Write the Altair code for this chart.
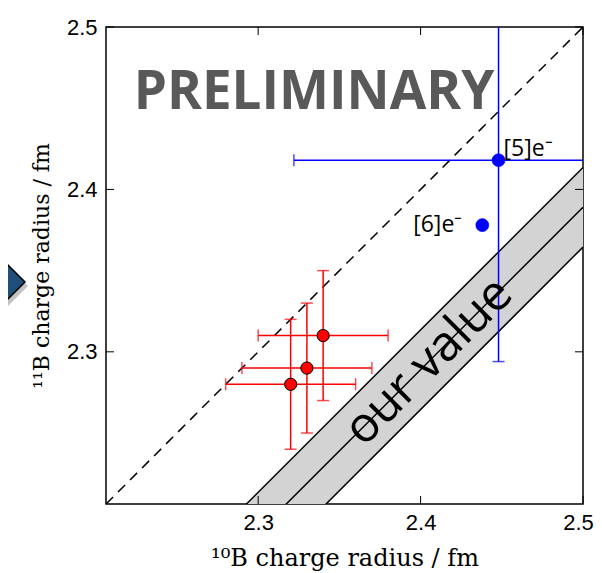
import altair as alt
import pandas as pd

# ---------------- data ----------------
axis_lo, axis_hi = 2.2063, 2.5
tick_values = [2.3, 2.4, 2.5]

red_x = [2.32, 2.33, 2.34]
red_y = [2.28, 2.29, 2.31]
red_xerr = [0.04, 0.04, 0.04]
red_yerr = [0.04, 0.04, 0.04]

blue_x = [2.448, 2.438]
blue_y = [2.418, 2.378]
blue_xerr = [0.126, 0.0]
blue_yerr = [0.124, 0.0]
blue_labels = ["[5]e\u207b", "[6]e\u207b"]

band_center_offset = 0.111   # our value: r(11B) = r(10B) - offset
band_half_width = 0.0245
band_x = [axis_lo, axis_hi]

W = H = 477

xs = alt.Scale(domain=[axis_lo, axis_hi], nice=False, zero=False)
ys = alt.Scale(domain=[axis_lo, axis_hi], nice=False, zero=False)
x_axis = alt.Axis(values=tick_values, title="\u00b9\u2070B charge radius / fm", grid=False,
                  ticks=False, domain=False, format=".1f", labelFlush=False,
                  labelOffset={"condition": {"test": "datum.value >= 2.45", "value": -5}, "value": 0},
                  labelPadding=8, titlePadding=13, titleFontSize=24)
y_axis = alt.Axis(values=tick_values, title="\u00b9\u00b9B charge radius / fm", grid=False,
                  ticks=False, domain=False, format=".1f", labelPadding=9, titlePadding=13,
                  titleFontSize=22)


def X(f):
    return alt.X(f, type="quantitative", scale=xs, axis=x_axis)


def Y(f):
    return alt.Y(f, type="quantitative", scale=ys, axis=y_axis)


# band
band_df = pd.DataFrame({"x": band_x})
band_df["y_hi"] = band_df["x"] - band_center_offset + band_half_width
band_df["y_lo"] = band_df["x"] - band_center_offset - band_half_width
band_df["y_mid"] = band_df["x"] - band_center_offset
band_df["diag"] = band_df["x"]

lines_df = pd.concat([
    pd.DataFrame({"x": band_df["x"], "y": band_df[c], "line": c}) for c in ["y_hi", "y_mid", "y_lo"]
])

band_area = alt.Chart(band_df).mark_area(color="#d3d3d3", opacity=1, clip=True).encode(
    x=X("x"), y=Y("y_hi"), y2="y_lo")
band_lines = alt.Chart(lines_df).mark_line(color="black", strokeWidth=1.5, clip=True).encode(
    x=X("x"), y=Y("y"), detail="line:N")
diag = alt.Chart(band_df).mark_line(color="black", strokeWidth=1.5, strokeDash=[10, 7], clip=True).encode(
    x=X("x"), y=Y("diag"))


# error bars
def errbars(xv, yv, xe, ye, color, clip):
    d = pd.DataFrame({"x": xv, "y": yv, "xe": xe, "ye": ye})
    d = d[(d.xe > 0) | (d.ye > 0)].copy()
    d["xlo"] = d.x - d.xe
    d["xhi"] = d.x + d.xe
    d["ylo"] = d.y - d.ye
    d["yhi"] = d.y + d.ye
    h = alt.Chart(d).mark_rule(color=color, strokeWidth=1.5, clip=clip).encode(
        x=X("xlo"), x2="xhi", y=Y("y"))
    v = alt.Chart(d).mark_rule(color=color, strokeWidth=1.5, clip=clip).encode(
        x=X("x"), y=Y("ylo"), y2="yhi")
    capv = pd.concat([pd.DataFrame({"cx": d.xlo, "cy": d.y}), pd.DataFrame({"cx": d.xhi, "cy": d.y})])
    caph = pd.concat([pd.DataFrame({"cx": d.x, "cy": d.ylo}), pd.DataFrame({"cx": d.x, "cy": d.yhi})])
    cv = alt.Chart(capv).mark_tick(orient="vertical", color=color, size=12, thickness=1.5, clip=clip).encode(
        x=X("cx"), y=Y("cy"))
    ch = alt.Chart(caph).mark_tick(orient="horizontal", color=color, size=12, thickness=1.5, clip=clip).encode(
        x=X("cx"), y=Y("cy"))
    return [h, v, cv, ch]


red_df = pd.DataFrame({"x": red_x, "y": red_y})
blue_df = pd.DataFrame({"x": blue_x, "y": blue_y, "label": blue_labels})

red_pts = alt.Chart(red_df).mark_point(shape="circle", filled=True, fill="red", stroke="black",
                                       strokeWidth=1, size=150, opacity=1).encode(x=X("x"), y=Y("y"))
blue_pts = alt.Chart(blue_df).mark_point(shape="circle", filled=True, fill="blue", stroke="blue",
                                         strokeWidth=0.5, size=170, opacity=1).encode(x=X("x"), y=Y("y"))

lab5 = alt.Chart(blue_df.iloc[[0]]).mark_text(align="left", baseline="middle", dx=5, dy=-11,
                                              font="Open Sans", fontSize=23, color="black").encode(
    x=X("x"), y=Y("y"), text="label:N")
lab6 = alt.Chart(blue_df.iloc[[1]]).mark_text(align="right", baseline="middle", dx=-20, dy=0,
                                              font="Open Sans", fontSize=23, color="black").encode(
    x=X("x"), y=Y("y"), text="label:N")

# annotations
ann = pd.DataFrame({"t": ["PRELIMINARY"]})
prelim = alt.Chart(ann).mark_text(font="Open Sans", fontWeight="bold", fontSize=53, color="#595959",
                                  align="center", baseline="middle").encode(
    x=alt.value(208), y=alt.value(66), text="t:N")

ov = pd.DataFrame({"t": ["our value"], "x": [2.405], "y": [2.405 - band_center_offset]})
ourvalue = alt.Chart(ov).mark_text(font="Open Sans", fontSize=49, color="black", angle=315,
                                   align="center", baseline="middle").encode(
    x=X("x"), y=Y("y"), text="t:N")

# inward ticks
tdf = pd.DataFrame({"t": tick_values})
tb = alt.Chart(tdf).mark_rule(color="black", strokeWidth=1).encode(x=X("t"), y=alt.value(H), y2=alt.value(H - 8))
tt = alt.Chart(tdf).mark_rule(color="black", strokeWidth=1).encode(x=X("t"), y=alt.value(0), y2=alt.value(8))
tl = alt.Chart(tdf).mark_rule(color="black", strokeWidth=1).encode(y=Y("t"), x=alt.value(0), x2=alt.value(8))
tr = alt.Chart(tdf).mark_rule(color="black", strokeWidth=1).encode(y=Y("t"), x=alt.value(W), x2=alt.value(W - 8))

# decorative arrow on the left
arrow_path = "M -1 -1 L 0 0 L -1 1 Z"
arr_df = pd.DataFrame({"a": [1]})
arrow_shadow = alt.Chart(arr_df).mark_point(shape=arrow_path, filled=True, fill="#888888", opacity=0.5,
                                            size=6400, strokeWidth=0).encode(
    x=alt.value(-78), y=alt.value(259))
arrow = alt.Chart(arr_df).mark_point(shape=arrow_path, filled=True, fill="#1f4e79", stroke="black",
                                     strokeWidth=1.5, size=6400, opacity=1).encode(
    x=alt.value(-81), y=alt.value(255))

layers = [band_area, band_lines, diag]
layers += errbars(red_x, red_y, red_xerr, red_yerr, "red", False)
layers += errbars(blue_x, blue_y, blue_xerr, blue_yerr, "blue", True)
layers += [red_pts, blue_pts, lab5, lab6, ourvalue, prelim, tb, tt, tl, tr, arrow_shadow, arrow]

chart = alt.layer(*layers).properties(
    width=W, height=H,
    autosize=alt.AutoSizeParams(type="none"),
    padding={"left": 98, "top": 19, "right": 11, "bottom": 69},
    background="white",
).configure_view(stroke="black", strokeWidth=1.5).configure_axis(
    labelFont="Liberation Sans", labelFontSize=22, labelColor="black",
    titleFont="DejaVu Serif", titleFontWeight="normal", titleColor="black",
)

chart.save("out.html", embed_options={"renderer": "svg", "actions": False})
